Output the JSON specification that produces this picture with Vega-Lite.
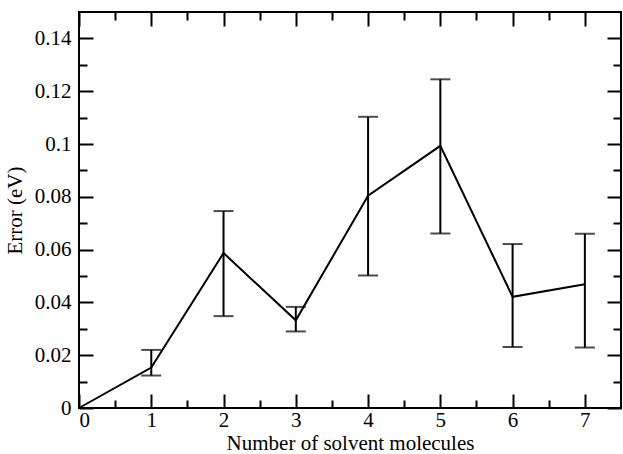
{
  "$schema": "https://vega.github.io/schema/vega-lite/v6.json",
  "width": 542,
  "height": 396,
  "autosize": {"type": "none"},
  "padding": {"left": 79, "top": 12, "right": 2, "bottom": 46},
  "data": {
    "values": [
      {"n": 0, "err": 0.0, "lo": null, "hi": null},
      {"n": 1, "err": 0.0153, "lo": 0.0123, "hi": 0.022},
      {"n": 2, "err": 0.0587, "lo": 0.0348, "hi": 0.0746},
      {"n": 3, "err": 0.0332, "lo": 0.029, "hi": 0.0383},
      {"n": 4, "err": 0.0804, "lo": 0.0502, "hi": 0.1103},
      {"n": 5, "err": 0.0993, "lo": 0.0661, "hi": 0.1245},
      {"n": 6, "err": 0.0421, "lo": 0.0231, "hi": 0.0621},
      {"n": 7, "err": 0.0469, "lo": 0.0229, "hi": 0.066}
    ]
  },
  "config": {
    "view": {"stroke": "black", "strokeWidth": 2},
    "font": "Liberation Serif",
    "axis": {
      "domain": false,
      "grid": false,
      "tickColor": "black",
      "tickWidth": 2,
      "labelColor": "black",
      "titleColor": "black",
      "labelFont": "Liberation Serif",
      "titleFont": "Liberation Serif",
      "labelFontSize": 21,
      "titleFontSize": 21,
      "titleFontWeight": "normal"
    }
  },
  "layer": [
    {
      "mark": {"type": "line", "color": "black", "strokeWidth": 2},
      "encoding": {
        "x": {
          "field": "n", "type": "quantitative",
          "scale": {"domain": [0, 7.5], "nice": false, "zero": false},
          "axis": {
            "orient": "bottom",
            "title": "Number of solvent molecules",
            "values": [0, 0.5, 1, 1.5, 2, 2.5, 3, 3.5, 4, 4.5, 5, 5.5, 6, 6.5, 7],
            "labelExpr": "datum.value % 1 === 0 ? format(datum.value, 'd') : ''",
            "tickSize": {"condition": {"test": "datum.value % 1 === 0", "value": -14}, "value": -8},
            "labelPadding": 15,
            "titleBaseline": "alphabetic",
            "titleY": 41
          }
        },
        "y": {
          "field": "err", "type": "quantitative",
          "scale": {"domain": [0, 0.15], "nice": false},
          "axis": {
            "orient": "left",
            "title": "Error (eV)",
            "values": [0, 0.01, 0.02, 0.03, 0.04, 0.05, 0.06, 0.07, 0.08, 0.09, 0.1, 0.11, 0.12, 0.13, 0.14],
            "labelExpr": "round(datum.value * 100) % 2 === 0 ? format(datum.value, '.2~f') : ''",
            "tickSize": {"condition": {"test": "round(datum.value * 100) % 2 === 0", "value": -14}, "value": -8},
            "labelPadding": 22,
            "titlePadding": 9
          }
        }
      }
    },
    {
      "transform": [{"filter": "datum.lo != null"}],
      "mark": {"type": "rule", "color": "black", "strokeWidth": 2},
      "encoding": {
        "x": {"field": "n", "type": "quantitative", "axis": null},
        "y": {"field": "lo", "type": "quantitative", "axis": null},
        "y2": {"field": "hi"}
      }
    },
    {
      "transform": [{"filter": "datum.lo != null"}],
      "mark": {"type": "tick", "orient": "horizontal", "color": "black", "size": 20, "thickness": 2},
      "encoding": {
        "x": {"field": "n", "type": "quantitative", "axis": null},
        "y": {"field": "lo", "type": "quantitative", "axis": null}
      }
    },
    {
      "transform": [{"filter": "datum.lo != null"}],
      "mark": {"type": "tick", "orient": "horizontal", "color": "black", "size": 20, "thickness": 2},
      "encoding": {
        "x": {
          "field": "n", "type": "quantitative",
          "axis": {
            "orient": "top", "title": null, "labels": false,
            "values": [0, 0.5, 1, 1.5, 2, 2.5, 3, 3.5, 4, 4.5, 5, 5.5, 6, 6.5, 7],
            "tickSize": {"condition": {"test": "datum.value % 1 === 0", "value": -14}, "value": -8}
          }
        },
        "y": {
          "field": "hi", "type": "quantitative",
          "axis": {
            "orient": "right", "title": null, "labels": false,
            "values": [0, 0.01, 0.02, 0.03, 0.04, 0.05, 0.06, 0.07, 0.08, 0.09, 0.1, 0.11, 0.12, 0.13, 0.14],
            "tickSize": {"condition": {"test": "round(datum.value * 100) % 2 === 0", "value": -14}, "value": -8}
          }
        }
      }
    }
  ],
  "resolve": {"axis": {"x": "independent", "y": "independent"}}
}
